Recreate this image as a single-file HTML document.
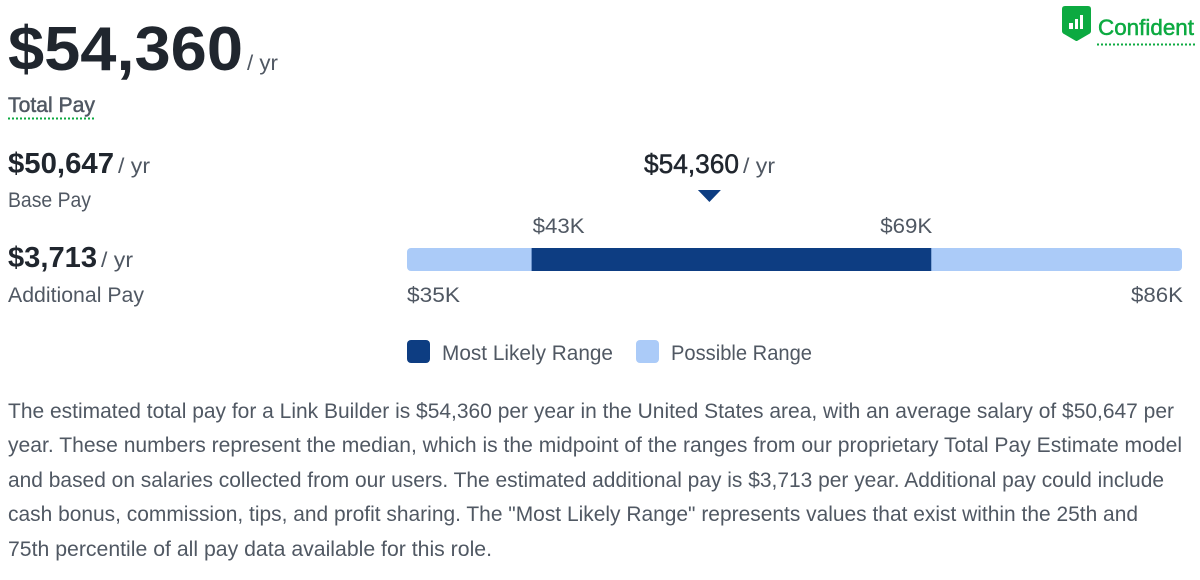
<!DOCTYPE html>
<html lang="en">
<head>
<meta charset="utf-8">
<title>Link Builder Total Pay</title>
<style>
html,body{margin:0;padding:0;background:#fff;width:1200px;height:580px;overflow:hidden}
svg{display:block}
text{font-family:"Liberation Sans",sans-serif;fill:#505863;font-size:21px}
.dark{fill:#20262e;font-weight:700}
.med{stroke:#505863;stroke-width:.5px}
.g{fill:#0caa41;stroke:#0caa41;stroke-width:.5px}
</style>
</head>
<body>
<svg id="chart" width="1200" height="580" viewBox="0 0 1200 580" xmlns="http://www.w3.org/2000/svg">
  <text class="dark" x="8" y="70" style="font-size:62px" textLength="235" lengthAdjust="spacingAndGlyphs">$54,360</text>
  <text x="247" y="70" textLength="31" lengthAdjust="spacingAndGlyphs">/ yr</text>
  <text class="med" x="8" y="112" textLength="87" lengthAdjust="spacingAndGlyphs">Total Pay</text>
  <line x1="8" x2="95" y1="118.5" y2="118.5" stroke="#0caa41" stroke-width="2" stroke-dasharray="2 2"/>

  <path d="M1065 6H1088Q1091 6 1091 9V31Q1091 33 1089 34L1077 41H1076L1064 34Q1062 33 1062 31V9Q1062 6 1065 6Z" fill="#0caa41"/>
  <rect x="1069" y="23" width="4" height="6" fill="#fff"/>
  <rect x="1075" y="19" width="3" height="10" fill="#fff"/>
  <rect x="1080" y="15" width="3" height="14" fill="#fff"/>
  <text class="g" x="1098" y="35" style="font-size:22px" textLength="96" lengthAdjust="spacingAndGlyphs">Confident</text>
  <line x1="1097" x2="1195" y1="44.5" y2="44.5" stroke="#0caa41" stroke-width="2" stroke-dasharray="2 2"/>

  <text class="dark" x="8" y="173" style="font-size:29px" textLength="106" lengthAdjust="spacingAndGlyphs">$50,647</text>
  <text x="118" y="173" textLength="32" lengthAdjust="spacingAndGlyphs">/ yr</text>
  <text x="8" y="207" textLength="83" lengthAdjust="spacingAndGlyphs">Base Pay</text>
  <text class="dark" x="8" y="267" style="font-size:29px" textLength="89" lengthAdjust="spacingAndGlyphs">$3,713</text>
  <text x="101" y="267" textLength="32" lengthAdjust="spacingAndGlyphs">/ yr</text>
  <text x="8" y="302" textLength="136" lengthAdjust="spacingAndGlyphs">Additional Pay</text>

  <text x="644" y="173" style="font-size:27px;fill:#20262e;stroke:#20262e;stroke-width:.5px" textLength="95" lengthAdjust="spacingAndGlyphs">$54,360</text>
  <text x="743" y="173" textLength="32" lengthAdjust="spacingAndGlyphs">/ yr</text>

  <g id="marks"></g>

  <rect x="407" y="340" width="23" height="23" rx="4" fill="#0d3d82"/>
  <text x="442" y="360" textLength="171" lengthAdjust="spacingAndGlyphs">Most Likely Range</text>
  <rect x="636" y="340" width="23" height="23" rx="4" fill="#abcbf8"/>
  <text x="671" y="360" textLength="141" lengthAdjust="spacingAndGlyphs">Possible Range</text>

  <g>
    <text x="8" y="418" textLength="1166" lengthAdjust="spacingAndGlyphs">The estimated total pay for a Link Builder is $54,360 per year in the United States area, with an average salary of $50,647 per</text>
    <text x="8" y="452" textLength="1174" lengthAdjust="spacingAndGlyphs">year. These numbers represent the median, which is the midpoint of the ranges from our proprietary Total Pay Estimate model</text>
    <text x="8" y="487" textLength="1156" lengthAdjust="spacingAndGlyphs">and based on salaries collected from our users. The estimated additional pay is $3,713 per year. Additional pay could include</text>
    <text x="8" y="521" textLength="1130" lengthAdjust="spacingAndGlyphs">cash bonus, commission, tips, and profit sharing. The "Most Likely Range" represents values that exist within the 25th and</text>
    <text x="8" y="556" textLength="484" lengthAdjust="spacingAndGlyphs">75th percentile of all pay data available for this role.</text>
  </g>
</svg>
<script>
const possibleRange = [35, 86];
const likelyRange = [43.2, 69.5];
const markerValue = 54.9;
const possibleLabels = ['$35K', '$86K'];
const likelyLabels = ['$43K', '$69K'];

const NS = 'http://www.w3.org/2000/svg';
const marks = document.getElementById('marks');
const xScale = v => 407 + (v - possibleRange[0]) / (possibleRange[1] - possibleRange[0]) * 775;

const possibleBar = document.createElementNS(NS, 'rect');


possibleBar.setAttribute('x', xScale(possibleRange[0]));
possibleBar.setAttribute('y', 248);
possibleBar.setAttribute('width', xScale(possibleRange[1]) - xScale(possibleRange[0]));
possibleBar.setAttribute('height', 23);
possibleBar.setAttribute('rx', 4);
possibleBar.setAttribute('fill', '#abcbf8');
marks.appendChild(possibleBar);

const likelyBar = document.createElementNS(NS, 'rect');


likelyBar.setAttribute('x', xScale(likelyRange[0]));
likelyBar.setAttribute('y', 248);
likelyBar.setAttribute('width', xScale(likelyRange[1]) - xScale(likelyRange[0]));
likelyBar.setAttribute('height', 23);
likelyBar.setAttribute('fill', '#0d3d82');
marks.appendChild(likelyBar);

const mx = xScale(markerValue);
const marker = document.createElementNS(NS, 'polygon');


marker.setAttribute('points', (mx - 11.5) + ',190 ' + (mx + 11.5) + ',190 ' + mx + ',202');
marker.setAttribute('fill', '#0d3d82');
marks.appendChild(marker);

const likelyLow = document.createElementNS(NS, 'text');


likelyLow.setAttribute('x', xScale(likelyRange[0]) + 1);
likelyLow.setAttribute('y', 233);
likelyLow.setAttribute('textLength', 52);
likelyLow.setAttribute('lengthAdjust', 'spacingAndGlyphs');
likelyLow.textContent = likelyLabels[0];
marks.appendChild(likelyLow);

const likelyHigh = document.createElementNS(NS, 'text');


likelyHigh.setAttribute('x', xScale(likelyRange[1]) - 51);
likelyHigh.setAttribute('y', 233);
likelyHigh.setAttribute('textLength', 52);
likelyHigh.setAttribute('lengthAdjust', 'spacingAndGlyphs');
likelyHigh.textContent = likelyLabels[1];
marks.appendChild(likelyHigh);

const possibleLow = document.createElementNS(NS, 'text');


possibleLow.setAttribute('x', xScale(possibleRange[0]));
possibleLow.setAttribute('y', 302);
possibleLow.setAttribute('textLength', 53);
possibleLow.setAttribute('lengthAdjust', 'spacingAndGlyphs');
possibleLow.textContent = possibleLabels[0];
marks.appendChild(possibleLow);

const possibleHigh = document.createElementNS(NS, 'text');


possibleHigh.setAttribute('x', xScale(possibleRange[1]) - 51);
possibleHigh.setAttribute('y', 302);
possibleHigh.setAttribute('textLength', 52);
possibleHigh.setAttribute('lengthAdjust', 'spacingAndGlyphs');
possibleHigh.textContent = possibleLabels[1];
marks.appendChild(possibleHigh);
</script>
</body>
</html>
